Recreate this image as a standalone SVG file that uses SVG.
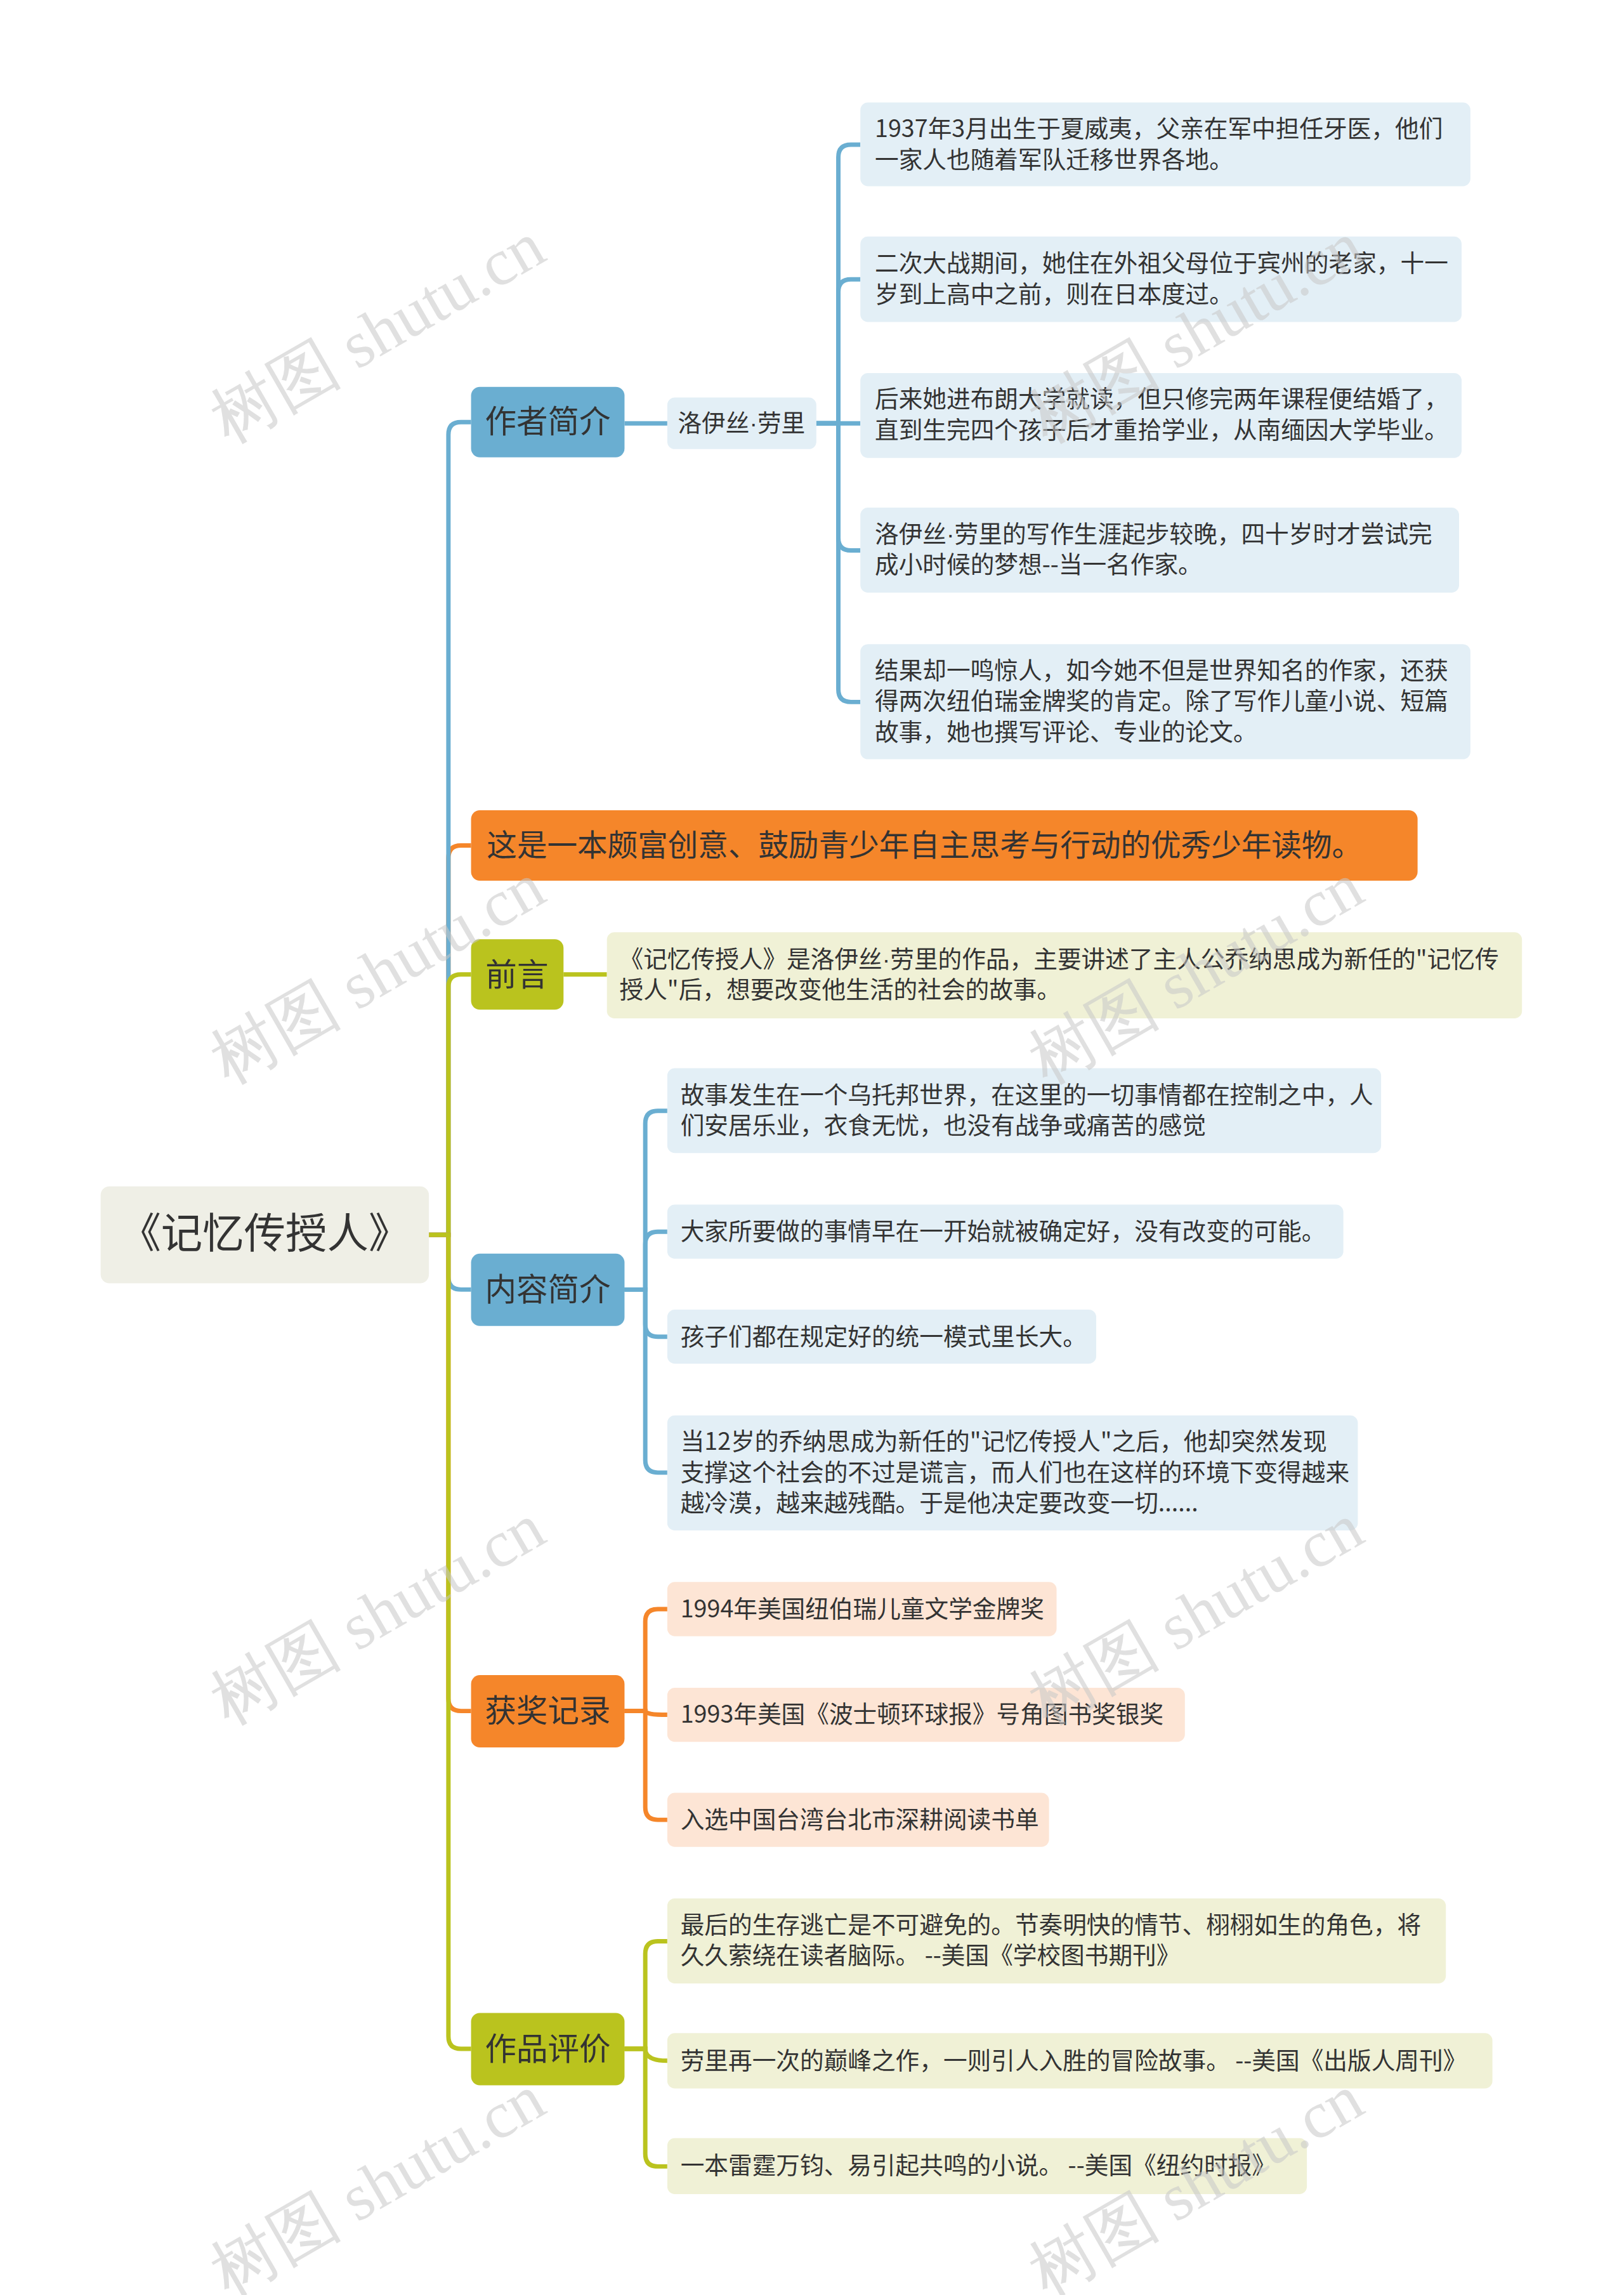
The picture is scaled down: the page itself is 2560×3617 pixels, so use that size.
<svg xmlns="http://www.w3.org/2000/svg" width="2560" height="3617" viewBox="0 0 2560 3617">
<style>
text{font-family:"Noto Sans CJK SC","Liberation Sans",sans-serif;fill:#333}
.l1{font-size:50px}
.d{font-size:38px}
.dot{font-family:"Liberation Sans",sans-serif}
.c{fill:none;stroke-width:7}
.b{stroke:#6aaed1}.o{stroke:#f5862a}.g{stroke:#bac31e}
.wm{font-family:"Liberation Serif",serif;font-size:104px;fill:#c8c8c8;opacity:0.55}
</style>
<rect width="2560" height="3617" fill="#fff"/>
<g transform="scale(0.9914)">
<g id="connectors">
<path class="c o" d="M682,1963 H713 V1364 Q713,1344 733,1344 H749"/>
<path class="c b" d="M682,1963 H713 V691 Q713,671 733,671 H749"/>
<path class="c g" d="M682,1963 H713 V1569 Q713,1549 733,1549 H749"/>
<path class="c b" d="M682,1963 H713 V2030 Q713,2050 733,2050 H749"/>
<path class="c o" d="M682,1963 H713 V2700 Q713,2720 733,2720 H749"/>
<path class="c g" d="M682,1963 H713 V3237 Q713,3257 733,3257 H749"/>
<path class="c b" d="M993,673 H1061"/>
<path class="c g" d="M896,1549 H965"/>
<path class="c b" d="M1298,673 H1333 V250 Q1333,230 1353,230 H1368"/>
<path class="c b" d="M1298,673 H1333 V464 Q1333,444 1353,444 H1368"/>
<path class="c b" d="M1298,673 H1368"/>
<path class="c b" d="M1298,673 H1333 V855 Q1333,875 1353,875 H1368"/>
<path class="c b" d="M1298,673 H1333 V1096 Q1333,1116 1353,1116 H1368"/>
<path class="c b" d="M993,2050 H1026 V1786 Q1026,1766 1046,1766 H1061"/>
<path class="c b" d="M993,2050 H1026 V1978 Q1026,1958 1046,1958 H1061"/>
<path class="c b" d="M993,2050 H1026 V2105 Q1026,2125 1046,2125 H1061"/>
<path class="c b" d="M993,2050 H1026 V2321 Q1026,2341 1046,2341 H1061"/>
<path class="c o" d="M993,2720 H1026 V2578 Q1026,2558 1046,2558 H1061"/>
<path class="c o" d="M993,2720 H1026 Q1026,2726 1061,2726"/>
<path class="c o" d="M993,2720 H1026 V2873 Q1026,2893 1046,2893 H1061"/>
<path class="c g" d="M993,3257 H1026 V3106 Q1026,3086 1046,3086 H1061"/>
<path class="c g" d="M993,3257 H1026 Q1026,3276 1061,3276"/>
<path class="c g" d="M993,3257 H1026 V3424 Q1026,3444 1046,3444 H1061"/>
</g>
<g id="root"><rect x="160" y="1886" width="522" height="154" rx="14" fill="#efefe6"/><text x="421" y="1984" font-size="66" text-anchor="middle">《记忆传授人》</text></g>
<g id="n1"><rect x="749" y="615" width="244" height="112" rx="14" fill="#6aaed1"/><text class="l1" x="871" y="688" text-anchor="middle">作者简介</text></g>
<g id="n1a"><rect x="1061" y="632" width="237" height="82" rx="12" fill="#e3eff6"/><text x="1179" y="686" font-size="38" text-anchor="middle">洛伊丝<tspan class="dot">·</tspan>劳里</text></g>
<g id="n1a1"><rect x="1368" y="163" width="970" height="133" rx="12" fill="#e3eff6"/><text class="d" x="1391" y="218">1937年3月出生于夏威夷，父亲在军中担任牙医，他们<tspan x="1391" dy="49">一家人也随着军队迁移世界各地。</tspan></text></g>
<g id="n1a2"><rect x="1368" y="376" width="956" height="136" rx="12" fill="#e3eff6"/><text class="d" x="1391" y="432">二次大战期间，她住在外祖父母位于宾州的老家，十一<tspan x="1391" dy="49">岁到上高中之前，则在日本度过。</tspan></text></g>
<g id="n1a3"><rect x="1368" y="593" width="956" height="135" rx="12" fill="#e3eff6"/><text class="d" x="1391" y="648">后来她进布朗大学就读，但只修完两年课程便结婚了，<tspan x="1391" dy="49">直到生完四个孩子后才重拾学业，从南缅因大学毕业。</tspan></text></g>
<g id="n1a4"><rect x="1368" y="807" width="952" height="135" rx="12" fill="#e3eff6"/><text class="d" x="1391" y="862">洛伊丝<tspan class="dot">·</tspan>劳里的写作生涯起步较晚，四十岁时才尝试完<tspan x="1391" dy="49">成小时候的梦想--当一名作家。</tspan></text></g>
<g id="n1a5"><rect x="1368" y="1024" width="970" height="183" rx="12" fill="#e3eff6"/><text class="d" x="1391" y="1079">结果却一鸣惊人，如今她不但是世界知名的作家，还获<tspan x="1391" dy="49">得两次纽伯瑞金牌奖的肯定。除了写作儿童小说、短篇</tspan><tspan x="1391" dy="49">故事，她也撰写评论、专业的论文。</tspan></text></g>
<g id="n2"><rect x="749" y="1288" width="1505" height="112" rx="14" fill="#f5862a"/><text x="774" y="1361" font-size="48">这是一本颇富创意、鼓励青少年自主思考与行动的优秀少年读物。</text></g>
<g id="n3"><rect x="749" y="1493" width="147" height="112" rx="14" fill="#bac31e"/><text class="l1" x="822" y="1567" text-anchor="middle">前言</text></g>
<g id="n3a"><rect x="965" y="1482" width="1455" height="137" rx="12" fill="#f0f1d6"/><text class="d" x="985" y="1538">《记忆传授人》是洛伊丝<tspan class="dot">·</tspan>劳里的作品，主要讲述了主人公乔纳思成为新任的"记忆传<tspan x="985" dy="49">授人"后，想要改变他生活的社会的故事。</tspan></text></g>
<g id="n4"><rect x="749" y="1993" width="244" height="115" rx="14" fill="#6aaed1"/><text class="l1" x="871" y="2068" text-anchor="middle">内容简介</text></g>
<g id="n4a"><rect x="1061" y="1698" width="1135" height="135" rx="12" fill="#e3eff6"/><text class="d" x="1082" y="1754">故事发生在一个乌托邦世界，在这里的一切事情都在控制之中，人<tspan x="1082" dy="49">们安居乐业，衣食无忧，也没有战争或痛苦的感觉</tspan></text></g>
<g id="n4b"><rect x="1061" y="1915" width="1075" height="86" rx="12" fill="#e3eff6"/><text class="d" x="1082" y="1971">大家所要做的事情早在一开始就被确定好，没有改变的可能。</text></g>
<g id="n4c"><rect x="1061" y="2082" width="682" height="86" rx="12" fill="#e3eff6"/><text class="d" x="1082" y="2138">孩子们都在规定好的统一模式里长大。</text></g>
<g id="n4d"><rect x="1061" y="2250" width="1098" height="183" rx="12" fill="#e3eff6"/><text class="d" x="1082" y="2305">当12岁的乔纳思成为新任的"记忆传授人"之后，他却突然发现<tspan x="1082" dy="49">支撑这个社会的不过是谎言，而人们也在这样的环境下变得越来</tspan><tspan x="1082" dy="49">越冷漠，越来越残酷。于是他决定要改变一切......</tspan></text></g>
<g id="n5"><rect x="749" y="2663" width="244" height="115" rx="14" fill="#f5862a"/><text class="l1" x="871" y="2738" text-anchor="middle">获奖记录</text></g>
<g id="n5a"><rect x="1061" y="2515" width="619" height="86" rx="12" fill="#fde5d5"/><text class="d" x="1082" y="2571">1994年美国纽伯瑞儿童文学金牌奖</text></g>
<g id="n5b"><rect x="1061" y="2683" width="823" height="86" rx="12" fill="#fde5d5"/><text class="d" x="1082" y="2739">1993年美国《波士顿环球报》号角图书奖银奖</text></g>
<g id="n5c"><rect x="1061" y="2850" width="607" height="86" rx="12" fill="#fde5d5"/><text class="d" x="1082" y="2906">入选中国台湾台北市深耕阅读书单</text></g>
<g id="n6"><rect x="749" y="3200" width="244" height="115" rx="14" fill="#bac31e"/><text class="l1" x="871" y="3275" text-anchor="middle">作品评价</text></g>
<g id="n6a"><rect x="1061" y="3018" width="1238" height="135" rx="12" fill="#f0f1d6"/><text class="d" x="1082" y="3073">最后的生存逃亡是不可避免的。节奏明快的情节、栩栩如生的角色，将<tspan x="1082" dy="49">久久萦绕在读者脑际。 --美国《学校图书期刊》</tspan></text></g>
<g id="n6b"><rect x="1061" y="3232" width="1312" height="88" rx="12" fill="#f0f1d6"/><text class="d" x="1082" y="3289">劳里再一次的巅峰之作，一则引人入胜的冒险故事。 --美国《出版人周刊》</text></g>
<g id="n6c"><rect x="1061" y="3399" width="1017" height="89" rx="12" fill="#f0f1d6"/><text class="d" x="1082" y="3456">一本雷霆万钧、易引起共鸣的小说。 --美国《纽约时报》</text></g>
</g>
<g id="watermarks">
<text class="wm" transform="translate(360,700) rotate(-30)">树图 shutu.cn</text>
<text class="wm" transform="translate(1650,700) rotate(-30)">树图 shutu.cn</text>
<text class="wm" transform="translate(360,1710) rotate(-30)">树图 shutu.cn</text>
<text class="wm" transform="translate(1650,1710) rotate(-30)">树图 shutu.cn</text>
<text class="wm" transform="translate(360,2720) rotate(-30)">树图 shutu.cn</text>
<text class="wm" transform="translate(1650,2720) rotate(-30)">树图 shutu.cn</text>
<text class="wm" transform="translate(360,3620) rotate(-30)">树图 shutu.cn</text>
<text class="wm" transform="translate(1650,3620) rotate(-30)">树图 shutu.cn</text>
</g>
</svg>
